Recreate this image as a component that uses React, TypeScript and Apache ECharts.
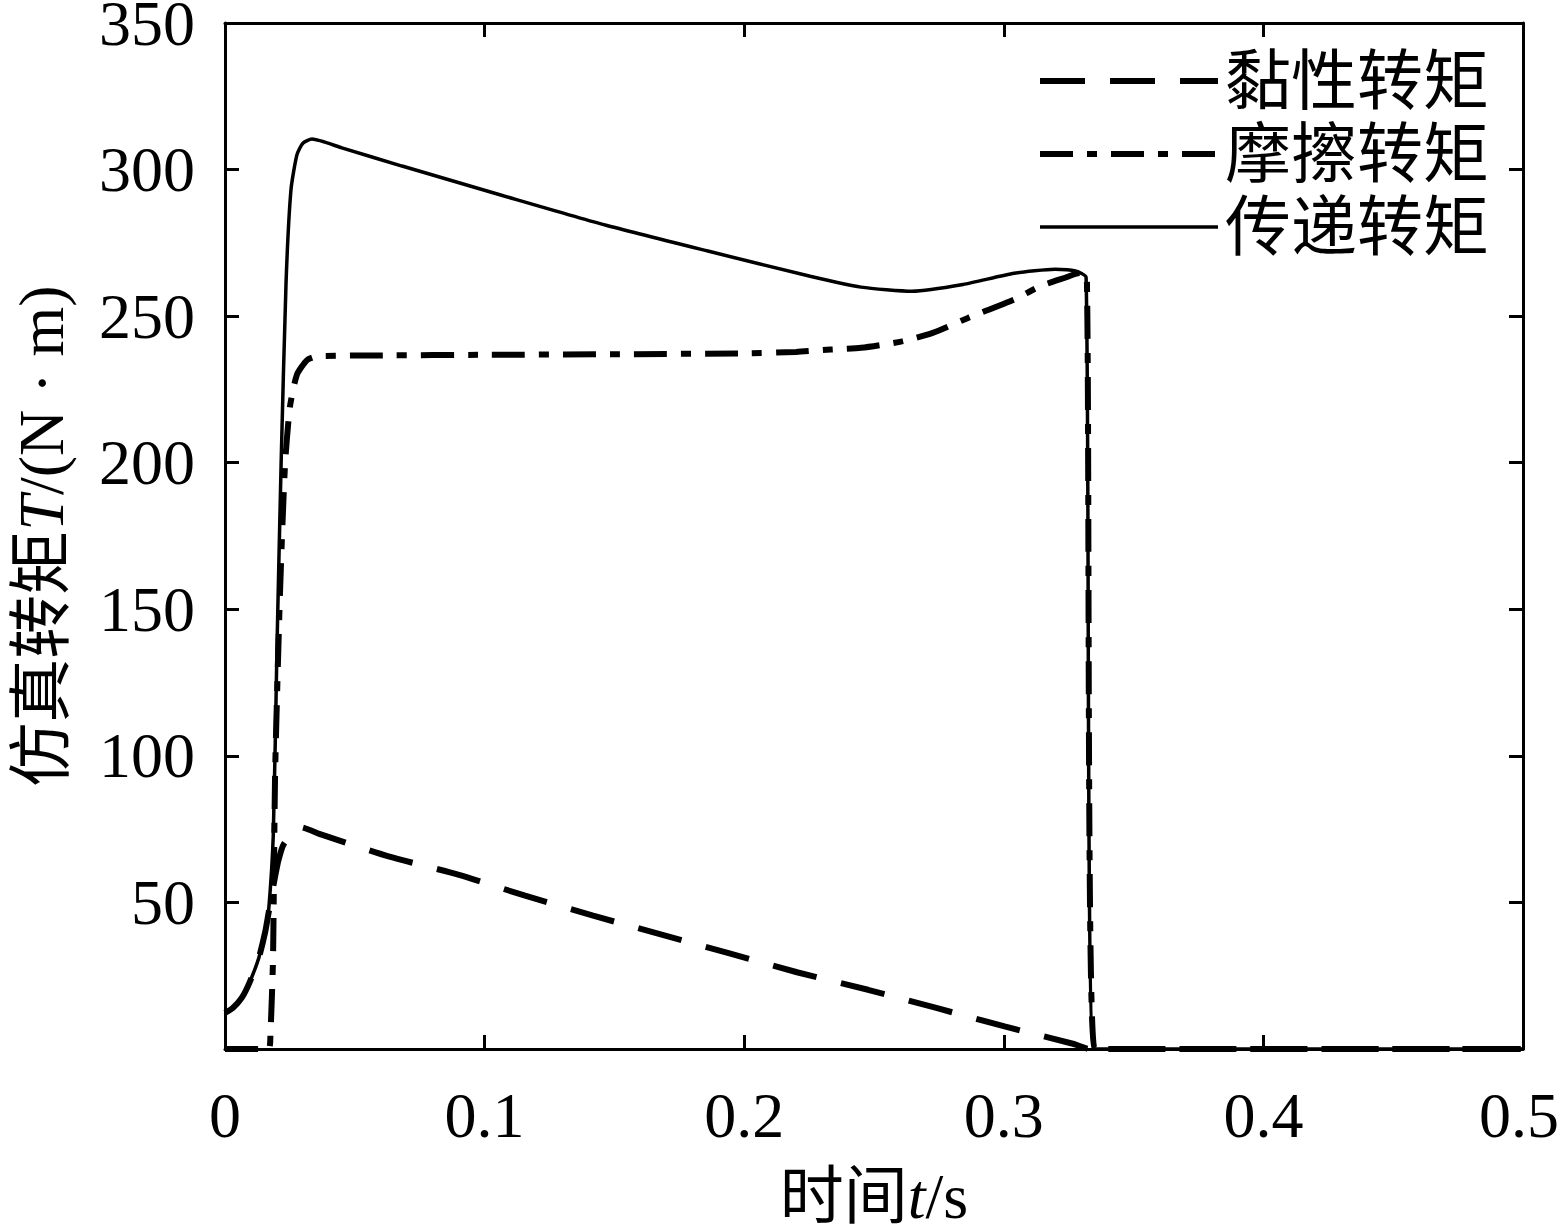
import React, { useEffect, useRef } from "react";
import * as echarts from "echarts";

// 黏性转矩 (viscous torque)
const viscousT = [0, 0.003, 0.0065, 0.0096, 0.013, 0.0155, 0.0167, 0.0185, 0.0205, 0.0227, 0.0289, 0.0372, 0.063, 0.0898, 0.1156, 0.1418, 0.1682, 0.194, 0.2207, 0.2477, 0.274, 0.3003, 0.327, 0.333, 0.5];
const viscousV = [12.3, 14, 17.5, 23, 31, 40, 46, 55, 64, 70, 75.7, 73.1, 65.7, 59.5, 52.3, 45.5, 39, 32.7, 26.1, 20.2, 14, 7.7, 1.7, 0, 0];

// 摩擦转矩 (friction torque)
const frictionT = [0, 0.0168, 0.0175, 0.0185, 0.0193, 0.0212, 0.0231, 0.025, 0.0277, 0.0316, 0.0354, 0.06, 0.1, 0.15, 0.2, 0.22, 0.2333, 0.245, 0.2608, 0.2726, 0.2862, 0.304, 0.314, 0.3236, 0.3296, 0.332, 0.335, 0.5];
const frictionV = [0, 0, 5, 31, 94, 156, 199, 219, 230, 235, 236.3, 236.6, 236.8, 237, 237.3, 237.8, 238.6, 239.2, 241.4, 244.3, 249.4, 255.7, 260.2, 263.1, 264.8, 263, 0, 0];

// 传递转矩 (transmitted torque)
const transmitT = [0, 0.003, 0.0065, 0.0096, 0.013, 0.0155, 0.0167, 0.0186, 0.02, 0.0216, 0.0235, 0.0254, 0.0277, 0.03, 0.0335, 0.045, 0.0682, 0.1075, 0.1468, 0.186, 0.2254, 0.245, 0.2647, 0.2843, 0.304, 0.3197, 0.3276, 0.3317, 0.3348, 0.5];
const transmitV = [12.3, 14, 17.5, 23, 31, 40, 46, 73, 136, 199, 261, 293, 305, 309, 310.4, 307.4, 301.2, 291, 281, 272.2, 263.6, 259.9, 258.5, 260.8, 264.6, 266, 265.4, 263.2, 0, 0];

const seriesNames = ["黏性转矩", "摩擦转矩", "传递转矩"];
const xTicks = { min: 0, max: 0.5, interval: 0.1 };
const yTicks = { min: 0, max: 350, interval: 50 };

const FONT = "'Liberation Serif', 'Times New Roman', 'Noto Sans CJK SC', serif";

const zip = (xs: number[], ys: number[]) => xs.map((x, i) => [x, ys[i]]);

const styles = [
  { color: "#000", width: 6, type: [45, 25], cap: "butt" },
  { color: "#000", width: 6, type: [33, 14, 10, 14], cap: "butt" },
  { color: "#000", width: 3.5, type: "solid", cap: "butt" },
];

export default function App() {
  const ref = useRef<HTMLDivElement>(null);
  useEffect(() => {
    if (!ref.current) return;
    const chart = echarts.init(ref.current, null, { renderer: "svg" });
    const axisLine = { show: true, onZero: false, lineStyle: { color: "#000", width: 3 } };
    const tick = { show: true, inside: true, length: 14, lineStyle: { color: "#000", width: 3 } };
    chart.setOption({
      animation: false,
      backgroundColor: "#fff",
      grid: {
        left: 225,
        top: 23,
        width: 1298,
        height: 1026,
        containLabel: false,
        outerBoundsMode: "none",
      },
      legend: {
        orient: "vertical",
        left: 1037,
        top: 48,
        padding: 0,
        itemWidth: 178,
        itemHeight: 20,
        itemGap: 7,
        itemStyle: { opacity: 0 },
        data: seriesNames.map((name, i) => ({
          name,
          itemStyle: { opacity: 0 },
          lineStyle: { ...styles[i], opacity: 1 },
        })),
        textStyle: { fontFamily: FONT, fontSize: 66, color: "#000", lineHeight: 66, padding: [0, 0, 0, 2] },
      },
      xAxis: [
        {
          type: "value",
          position: "bottom",
          ...xTicks,
          name: "时间{i|t}/s",
          nameLocation: "middle",
          nameGap: 115,
          nameTextStyle: {
            fontFamily: FONT,
            fontSize: 64,
            color: "#000",
            rich: { i: { fontFamily: FONT, fontSize: 64, fontStyle: "italic", color: "#000" } },
          },
          axisLine,
          axisTick: tick,
          splitLine: { show: false },
          axisLabel: {
            fontFamily: FONT,
            fontSize: 64,
            color: "#000",
            margin: 34,
            formatter: (v: number) => (v === xTicks.max ? "{r|" + v + "}" : String(v)),
            rich: { r: { fontFamily: FONT, fontSize: 64, color: "#000", padding: [0, 8, 0, 0] } },
          },
        },
        {
          type: "value",
          position: "top",
          ...xTicks,
          axisLine,
          axisTick: tick,
          splitLine: { show: false },
          axisLabel: { show: false },
        },
      ],
      yAxis: [
        {
          type: "value",
          position: "left",
          ...yTicks,
          name: "仿真转矩{i|T}/(N · m)",
          nameLocation: "middle",
          nameGap: 152,
          nameRotate: 90,
          nameTextStyle: {
            fontFamily: FONT,
            fontSize: 64,
            lineHeight: 64,
            color: "#000",
            rich: {
              i: { fontFamily: FONT, fontSize: 64, lineHeight: 64, fontStyle: "italic", color: "#000" },
            },
          },
          axisLine,
          axisTick: tick,
          splitLine: { show: false },
          axisLabel: {
            fontFamily: FONT,
            fontSize: 64,
            lineHeight: 44,
            color: "#000",
            margin: 30,
            showMinLabel: false,
          },
        },
        {
          type: "value",
          position: "right",
          ...yTicks,
          axisLine,
          axisTick: tick,
          splitLine: { show: false },
          axisLabel: { show: false },
        },
      ],
      series: [
        {
          name: seriesNames[0],
          type: "line",
          data: zip(viscousT, viscousV),
          showSymbol: false,
          symbol: "none",
          smooth: 0.2,
          lineStyle: styles[0],
          itemStyle: { color: "#000" },
          z: 3,
        },
        {
          name: seriesNames[1],
          type: "line",
          data: zip(frictionT, frictionV),
          showSymbol: false,
          symbol: "none",
          smooth: 0.2,
          lineStyle: styles[1],
          itemStyle: { color: "#000" },
          z: 3,
        },
        {
          name: seriesNames[2],
          type: "line",
          data: zip(transmitT, transmitV),
          showSymbol: false,
          symbol: "none",
          smooth: 0.2,
          lineStyle: styles[2],
          itemStyle: { color: "#000" },
          z: 4,
        },
      ],
    });
    return () => chart.dispose();
  }, []);
  return (
    <div
      ref={ref}
      style={{ position: "absolute", left: 0, top: 0, width: 1560, height: 1231, background: "#fff" }}
    />
  );
}
